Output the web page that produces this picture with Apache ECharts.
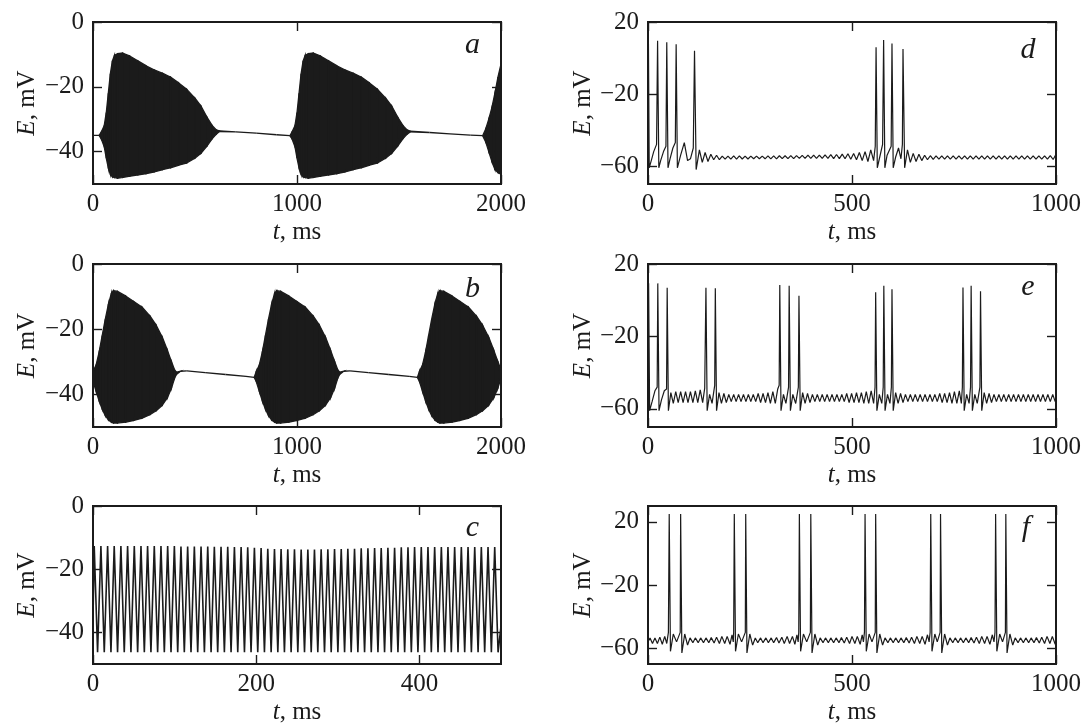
<!DOCTYPE html>
<html><head><meta charset="utf-8">
<script src="https://cdn.jsdelivr.net/npm/echarts@6/dist/echarts.min.js"></script>
<style>html,body{margin:0;padding:0;background:#fff}#c{width:1085px;height:726px}</style>
</head><body><div id="c"></div>
<script>
// ---------- Panel a: envelope of dense oscillation (t ms, upper mV, lower mV)
const aT  = [0,30,40,55,65,75,85,95,105,120,145,180,220,260,300,340,380,420,460,500,530,560,585,605,620,700,800,900,965,
             975,990,1000,1010,1020,1030,1040,1055,1080,1115,1155,1195,1235,1275,1315,1355,1395,1435,1465,1495,1520,1540,1555,1650,1750,1850,1910,
             1925,1940,1955,1970,1985,2000];
const aUp = [-35,-35,-34,-32,-28,-22,-16,-12,-10.3,-9.8,-9.6,-10.5,-12,-13.5,-14.8,-15.8,-17,-18.8,-20.8,-23.5,-26,-29.5,-32,-33.3,-33.6,-33.9,-34.3,-34.8,-35.1,
             -34,-32,-28,-22,-16,-12,-10.3,-9.8,-9.6,-10.5,-12,-13.5,-14.8,-15.8,-17,-18.8,-20.8,-23.5,-26,-29.5,-32,-33.3,-33.7,-34.1,-34.5,-34.9,-35.1,
             -33,-30,-26.5,-22,-17,-13];
const aLo = [-35,-35,-36,-38.5,-42,-45,-47,-47.8,-48,-48.2,-48,-47.6,-47.2,-46.8,-46.3,-45.6,-45,-44.2,-43.5,-42,-40.5,-38.2,-36,-34.6,-33.8,-33.9,-34.3,-34.8,-35.1,
             -36,-38.5,-42,-45,-47,-47.8,-48,-48.2,-48,-47.6,-47.2,-46.8,-46.3,-45.6,-45,-44.2,-43.5,-42,-40.5,-38.2,-36,-34.6,-33.9,-34.1,-34.5,-34.9,-35.1,
             -37,-40,-43,-45.5,-46.5,-47];

// ---------- Panel b: envelope
const bT  = [0,15,30,45,60,75,90,100,120,160,200,240,280,310,340,365,385,400,410,430,460,550,650,750,790,
             800,815,830,845,860,875,890,900,920,960,1000,1040,1080,1110,1140,1165,1185,1200,1210,1230,1260,1350,1450,1550,1590,
             1600,1615,1630,1645,1660,1675,1690,1700,1720,1760,1800,1840,1880,1910,1940,1965,1985,2000];
const bUp = [-33,-31,-27,-22,-17,-12.5,-9,-8.2,-8.4,-9.8,-11.5,-13.2,-16,-18.8,-22.5,-26.5,-30,-32.5,-33.2,-32.9,-32.8,-33.3,-33.9,-34.5,-34.8,
             -33,-31,-27,-22,-17,-12.5,-9,-8.2,-8.4,-9.8,-11.5,-13.2,-16,-18.8,-22.5,-26.5,-30,-32.5,-33.2,-32.9,-32.8,-33.3,-33.9,-34.5,-34.8,
             -33,-31,-27,-22,-17,-12.5,-9,-8.2,-8.4,-9.8,-11.5,-13.2,-16,-18.8,-22.5,-26.5,-30,-32.5];
const bLo = [-36,-39,-42,-44.5,-46.5,-47.8,-48.5,-48.8,-48.8,-48.5,-48,-47.3,-46.2,-45,-43.3,-41,-38,-35,-33.8,-32.9,-32.8,-33.3,-33.9,-34.5,-34.8,
             -36,-39,-42,-44.5,-46.5,-47.8,-48.5,-48.8,-48.8,-48.5,-48,-47.3,-46.2,-45,-43.3,-41,-38,-35,-33.8,-32.9,-32.8,-33.3,-33.9,-34.5,-34.8,
             -36,-39,-42,-44.5,-46.5,-47.8,-48.5,-48.8,-48.8,-48.5,-48,-47.3,-46.2,-45,-43.3,-41,-38,-35];

// ---------- Panel c: spike peaks and troughs
const cPeakT = [1.5,9.7,17.9,26.0,34.2,42.4,50.6,58.8,66.9,75.1,83.3,91.5,99.7,107.8,116.0,124.2,132.4,140.6,148.7,156.9,
  165.1,173.3,181.5,189.6,197.8,206.0,214.2,222.4,230.5,238.7,246.9,255.1,263.3,271.4,279.6,287.8,296.0,304.2,312.3,320.5,
  328.7,336.9,345.1,353.2,361.4,369.6,377.8,386.0,394.1,402.3,410.5,418.7,426.9,435.0,443.2,451.4,459.6,467.8,475.9,484.1,492.3];
const cPeakE = [-12.7,-12.7,-12.7,-12.7,-12.7,-12.7,-12.7,-12.7,-12.7,-12.7,-12.7,-12.7,-12.7,-12.8,-12.8,-12.8,-12.8,-12.8,-12.9,-12.9,
  -12.9,-13.0,-13.0,-13.1,-13.2,-13.3,-13.5,-13.6,-13.6,-13.7,-13.7,-13.8,-13.8,-13.8,-13.7,-13.7,-13.6,-13.6,-13.5,-13.5,
  -13.4,-13.4,-13.3,-13.3,-13.2,-13.2,-13.1,-13.1,-13.0,-13.0,-13.0,-13.0,-13.0,-13.0,-13.0,-13.0,-13.0,-13.0,-13.0,-13.0,-13.0];
const cTroughT = [5.6,13.8,22.0,30.1,38.3,46.5,54.7,62.9,71.0,79.2,87.4,95.6,103.8,111.9,120.1,128.3,136.5,144.7,152.8,161.0,
  169.2,177.4,185.6,193.7,201.9,210.1,218.3,226.5,234.6,242.8,251.0,259.2,267.4,275.5,283.7,291.9,300.1,308.3,316.4,324.6,
  332.8,341.0,349.2,357.3,365.5,373.7,381.9,390.1,398.2,406.4,414.6,422.8,431.0,439.1,447.3,455.5,463.7,471.9,480.0,488.2,496.4];
const cTroughE = [-46.3,-46.3,-46.3,-46.3,-46.3,-46.3,-46.3,-46.3,-46.3,-46.3,-46.3,-46.3,-46.3,-46.3,-46.3,-46.3,-46.3,-46.3,-46.3,-46.3,
  -46.3,-46.3,-46.3,-46.3,-46.3,-46.3,-46.3,-46.3,-46.3,-46.3,-46.3,-46.3,-46.3,-46.3,-46.3,-46.3,-46.3,-46.3,-46.3,-46.3,
  -46.3,-46.3,-46.3,-46.3,-46.3,-46.3,-46.3,-46.3,-46.3,-46.3,-46.3,-46.3,-46.3,-46.3,-46.3,-46.3,-46.3,-46.3,-46.3,-46.3,-46.3];

// ---------- Panel d: trace vertices [t ms, E mV]
const dTrace = [[0,-52],[1,10],[3,-61],[8,-57],[14,-52],[21,-48],[23.5,9.6],[26.5,-61],[31,-57],[38,-52],[44,-49],[46,8.7],[49,-61],[54,-56],[61,-50],[67,-47],[69,7.6],[72,-61],[80,-54],[89,-47],[97,-57],[104,-56],[111,-50],[114,4],[118,-62],[126,-51],[133,-58],[140,-52.5],[147,-57.5],[154,-53.5],[161,-56.5],[168,-54],[175,-56.5],[182,-54.5],[189,-56.2],[196,-54.5],
[203,-56.2],[210,-54.4],[217,-56.2],[224,-54.4],[231,-56.1],[238,-54.5],[245,-56.1],[252,-54.5],[259,-56],[266,-54.5],[273,-56],[280,-54.5],[287,-56],[294,-54.4],[301,-56],[308,-54.4],[315,-56],[322,-54.3],[329,-55.9],[336,-54.3],[343,-55.9],[350,-54.2],[357,-55.9],[364,-54.2],[371,-55.8],[378,-54.1],[385,-55.8],[392,-54],[399,-55.8],[406,-54],[413,-55.8],[420,-53.9],[427,-55.8],[434,-53.8],[441,-55.8],[448,-53.7],[455,-55.9],[462,-53.6],[469,-55.9],[476,-53.4],[483,-56],[490,-53.2],[497,-56.2],[504,-53],[511,-56.5],[518,-52.5],[525,-57],[532,-52],[539,-57.5],[546,-51],[553,-57],[557,-49],
[559,6],[562,-61],[568,-55],[575,-48],[577.5,10],[580.5,-61],[586,-54],[596,-49],[598,8],[601,-61],[607,-55],[614,-50],[620,-56],[623.5,-48],[625,5],[629,-61],[636,-51],[643,-58],[650,-53],[657,-57.5],[664,-53.5],[671,-57],[678,-54],[685,-56.5],[692,-54.3],[699,-56.3],
[706,-54.4],[713,-56.2],[720,-54.4],[727,-56.2],[734,-54.4],[741,-56.2],[748,-54.4],[755,-56.2],[762,-54.4],[769,-56.2],[776,-54.4],[783,-56.2],[790,-54.4],[797,-56.2],[804,-54.4],[811,-56.2],[818,-54.4],[825,-56.2],[832,-54.4],[839,-56.2],[846,-54.4],[853,-56.2],[860,-54.4],[867,-56.2],[874,-54.4],[881,-56.2],[888,-54.4],[895,-56.2],[902,-54.4],[909,-56.2],[916,-54.4],[923,-56.2],[930,-54.4],[937,-56.2],[944,-54.4],[951,-56.2],[958,-54.4],[965,-56.2],[972,-54.4],[979,-56.2],[986,-54.2],[993,-56.4],[1000,-53.5]];

// ---------- Panel e
const eTrace = [[0,-55],[1.5,9.3],[4,-61],[10,-56],[17,-50],[22.5,-48],[24,9.3],[27,-61],[33,-55],[40,-50],[45.5,-49],[47,6.9],[50,-61],[56,-51],[62,-57],[68,-50.5],[74,-56.5],[80,-50.5],[86,-56.5],[92,-50.5],[98,-56.5],[104,-50.5],[110,-56.5],[116,-50],[122,-56.5],[128,-49.5],[134,-56.5],[139,-48.5],[142,6.9],[145,-61],[151,-52],[157,-57],[163.5,-47],[165,6.6],[168,-61],[174,-51],[180,-57],[186,-51.5],[192,-56.5],[198,-52],[204,-56],[210,-52],[216,-56],[222,-52],[228,-56],[234,-52],[240,-56],[246,-52],[252,-56],[258,-52],[264,-56],[270,-51.5],[276,-56.5],[282,-51.5],[288,-56.5],[294,-51],[300,-57],[306,-50.5],[312,-57],[318,-49],[321.5,-47],[323,8.4],[326,-61],[332,-52],[338,-57],[344.5,-48],[346,8],[349,-61],[355,-52],[362,-57],[368.5,-48],[370,2.5],[373,-61],[379,-51],[385,-57],[391,-51.5],[397,-56.5],[403,-52],[409,-56],
[415,-52],[421,-56],[427,-52],[433,-56],[439,-52],[445,-56],[451,-52],[457,-56],[463,-52],[469,-56],[475,-52],[481,-56],[487,-51.5],[493,-56.5],[499,-51.5],[505,-56.5],[511,-51],[517,-56.5],[523,-51],[529,-57],[535,-50.5],[541,-57],[547,-50],[553,-57],[556.5,-48],[558,4.4],[561,-61],[567,-52],[573,-57],[576.5,-48],[578,8],[581,-61],[587,-52],[593,-57],[596.5,-48],[598,6],[601,-61],[607,-51],[613,-57],[619,-51.5],[625,-56.5],
[631,-52],[637,-56],[643,-52],[649,-56],[655,-52],[661,-56],[667,-52],[673,-56],[679,-52],[685,-56],[691,-52],[697,-56],[703,-52],[709,-56],[715,-51.5],[721,-56.5],[727,-51.5],[733,-56.5],[739,-51],[745,-57],[751,-50.5],[757,-57],[763,-50],[768,-57],[770.5,-48],[772,7],[775,-61],[781,-52],[787,-57],[790.5,-48],[792,8],[795,-61],[801,-52],[807,-57],[813.5,-48],[815,5],[818,-61],[824,-51],[830,-57],[836,-51.5],[842,-56.5],
[848,-52],[854,-56],[860,-52],[866,-56],[872,-52],[878,-56],[884,-52],[890,-56],[896,-52],[902,-56],[908,-52],[914,-56],[920,-52],[926,-56],[932,-52],[938,-56],[944,-52],[950,-56],[956,-52],[962,-56],[968,-52],[974,-56],[980,-52],[986,-56],[992,-52],[998,-56],[1000,-54]];

// ---------- Panel f
const fTrace = [[0,-56],[5,-53.5],[11,-57],[17,-53.5],[23,-57],[29,-53],[35,-57.5],[41,-52.5],[46,-57],[50,-50],[52,25],[55,-62],[62,-51],[70,-56],[79,-50],[80,25],[83,-63],[90,-51],[97,-58],
[103,-53.5],[110,-56.5],[116,-53.5],[123,-56.5],[129,-53.5],[136,-56.5],[142,-53.5],[149,-56.5],[155,-53.3],[162,-56.7],[168,-53],[175,-57],[181,-52.5],[188,-57],[194,-52.5],[201,-57.5],[206,-51.5],[209,-56],[210,-50],
[211.5,25],[214.5,-62],[221.5,-51],[229.5,-56],[238.5,-50],[239.5,25],[242.5,-63],[249.5,-51],[256.5,-58],
[263,-53.5],[269,-56.5],[276,-53.5],[282,-56.5],[289,-53.5],[295,-56.5],[302,-53.5],[308,-56.5],[315,-53.3],[321,-56.7],[328,-53],[334,-57],[341,-52.5],[347,-57],[354,-52.5],[360,-57.5],[365,-51.5],[368,-56],[369.5,-50],
[371,25],[374,-62],[381,-51],[389,-56],[398,-50],[399,25],[402,-63],[409,-51],[416,-58],
[422,-53.5],[429,-56.5],[435,-53.5],[442,-56.5],[448,-53.5],[455,-56.5],[461,-53.5],[468,-56.5],[474,-53.3],[481,-56.7],[487,-53],[494,-57],[500,-52.5],[507,-57],[513,-52.5],[520,-57.5],[525,-51.5],[528,-56],[530.5,-50],
[532,25],[535,-62],[542,-51],[549,-56],[557,-50],[558,25],[561,-63],[568,-51],[575,-58],
[581,-53.5],[588,-56.5],[594,-53.5],[601,-56.5],[607,-53.5],[614,-56.5],[620,-53.5],[627,-56.5],[633,-53.3],[640,-56.7],[646,-53],[653,-57],[659,-52.5],[666,-57],[672,-52.5],[679,-57.5],[685,-51.5],[689,-56],[691.5,-50],
[693,25],[696,-62],[703,-51],[709,-56],[716,-50],[717,25],[720,-63],[727,-51],[734,-58],
[740,-53.5],[747,-56.5],[753,-53.5],[760,-56.5],[766,-53.5],[773,-56.5],[779,-53.5],[786,-56.5],[792,-53.3],[799,-56.7],[805,-53],[812,-57],[818,-52.5],[825,-57],[831,-52.5],[838,-57.5],[844,-51.5],[848,-56],[850.5,-50],
[852,25],[855,-62],[862,-51],[869,-56],[876,-50],[877,25],[880,-63],[887,-51],[894,-58],
[900,-53.5],[907,-56.5],[913,-53.5],[920,-56.5],[926,-53.5],[933,-56.5],[939,-53.5],[946,-56.5],[952,-53.3],[959,-56.7],[965,-53],[972,-57],[978,-52.5],[985,-57],[991,-52.5],[998,-57.5],[1000,-55]];

// ---------- tick values
const xTicksLong = [0,1000,2000];
const xTicksC = [0,200,400];
const xTicksR = [0,500,1000];
const yTicksL = [-40,-20,0];
const yTicksR = [-60,-20,20];

const FONT = '"Liberation Serif","Times New Roman",serif';
const INK = '#1b1b1b';
const FS = 25;

const panels = [
  {letter:'a', lx:472.5, ly:45,  left:93,  top:22,  h:162, xmin:0, xmax:2000, xt:xTicksLong, ymin:-50, ymax:0,  yt:yTicksL, ng:53, lw:1.2},
  {letter:'d', lx:1028,  ly:50,  left:648, top:22,  h:162, xmin:0, xmax:1000, xt:xTicksR,    ymin:-70, ymax:20, yt:yTicksR, ng:51, lw:1.2},
  {letter:'b', lx:472.5, ly:289, left:93,  top:264, h:163, xmin:0, xmax:2000, xt:xTicksLong, ymin:-50, ymax:0,  yt:yTicksL, ng:53, lw:1.2},
  {letter:'e', lx:1028,  ly:287, left:648, top:264, h:163, xmin:0, xmax:1000, xt:xTicksR,    ymin:-70, ymax:20, yt:yTicksR, ng:51, lw:1.2},
  {letter:'c', lx:472.5, ly:528, left:93,  top:506, h:163, xmin:0, xmax:500,  xt:xTicksC,    ymin:-50, ymax:0,  yt:yTicksL, ng:53, lw:1.6},
  {letter:'f', lx:1026,  ly:528, left:648, top:506, h:163, xmin:0, xmax:1000, xt:xTicksR,    ymin:-70, ymax:30, yt:yTicksR, ng:51, lw:1.2}
];

const fmt = v => (v < 0 ? '\u2212' + Math.abs(v) : String(v));
const tickStyle = (vals) => ({show:true, inside:true, length:9, customValues:vals, lineStyle:{color:INK, width:1.4}});
const labelStyle = (vals, margin) => ({show:true, customValues:vals, formatter:fmt, fontFamily:FONT, fontSize:FS, color:INK, margin:margin});
const nameStyle = {fontFamily:FONT, fontSize:FS, color:INK, rich:{i:{fontFamily:FONT, fontSize:FS, color:INK, fontStyle:'italic'}}};
const noLine = {show:false, onZero:false};

const grids = [], xAxes = [], yAxes = [], series = [], graphics = [];
panels.forEach((p, i) => {
  grids.push({left:p.left, top:p.top, width:408, height:p.h, show:true, borderColor:INK, borderWidth:2, backgroundColor:'transparent'});
  xAxes.push({gridIndex:i, type:'value', min:p.xmin, max:p.xmax, position:'bottom',
    axisLine:noLine, axisTick:tickStyle(p.xt), axisLabel:labelStyle(p.xt, 8), splitLine:{show:false},
    name:'{i|t}, ms', nameLocation:'middle', nameGap:36, nameTextStyle:nameStyle});
  xAxes.push({gridIndex:i, type:'value', min:p.xmin, max:p.xmax, position:'top',
    axisLine:noLine, axisTick:tickStyle(p.xt), axisLabel:{show:false}, splitLine:{show:false}});
  yAxes.push({gridIndex:i, type:'value', min:p.ymin, max:p.ymax, position:'left',
    axisLine:noLine, axisTick:tickStyle(p.yt), axisLabel:labelStyle(p.yt, 9), splitLine:{show:false},
    name:'{i|E}, mV', nameLocation:'middle', nameRotate:90, nameGap:p.ng, nameTextStyle:nameStyle});
  yAxes.push({gridIndex:i, type:'value', min:p.ymin, max:p.ymax, position:'right',
    axisLine:noLine, axisTick:tickStyle(p.yt), axisLabel:{show:false}, splitLine:{show:false}});
  graphics.push({type:'text', x:p.lx, y:p.ly, z:10,
    style:{text:p.letter, font:'italic 30px ' + FONT, fill:INK, align:'center', verticalAlign:'middle'}});
});

function bandRows(T, U, L) {
  const rows = [];
  for (let k = 0; k < T.length - 1; k++) rows.push([T[k], U[k], L[k], T[k+1], U[k+1], L[k+1]]);
  return rows;
}
function bandRender(params, api) {
  const p1 = api.coord([api.value(0), api.value(1)]);
  const p2 = api.coord([api.value(3), api.value(4)]);
  const p3 = api.coord([api.value(3), api.value(5)]);
  const p4 = api.coord([api.value(0), api.value(2)]);
  return {type:'polygon', shape:{points:[p1, p2, p3, p4]}, style:{fill:INK, stroke:INK, lineWidth:1.3}};
}
function bandSeries(idx, T, U, L) {
  return {type:'custom', xAxisIndex:2*idx, yAxisIndex:2*idx, renderItem:bandRender, clip:true,
    encode:{x:[0,3], y:[1,2,4,5]}, data:bandRows(T, U, L), animation:false, silent:true};
}
function lineSeries(idx, data) {
  return {type:'line', xAxisIndex:2*idx, yAxisIndex:2*idx, data:data, showSymbol:false, symbol:'none',
    lineStyle:{color:INK, width:panels[idx].lw}, animation:false, silent:true, clip:true};
}

const cData = [[0,-36]];
cPeakT.forEach((t, k) => { cData.push([t, cPeakE[k]]); cData.push([cTroughT[k], cTroughE[k]]); });
cData.push([500,-38]);

series.push(bandSeries(0, aT, aUp, aLo));
series.push(lineSeries(1, dTrace));
series.push(bandSeries(2, bT, bUp, bLo));
series.push(lineSeries(3, eTrace));
series.push(lineSeries(4, cData));
series.push(lineSeries(5, fTrace));

const chart = echarts.init(document.getElementById('c'), null, {renderer:'canvas'});
chart.setOption({
  backgroundColor:'#ffffff', animation:false,
  grid:grids, xAxis:xAxes, yAxis:yAxes, series:series, graphic:graphics
});
</script>
</body></html>
